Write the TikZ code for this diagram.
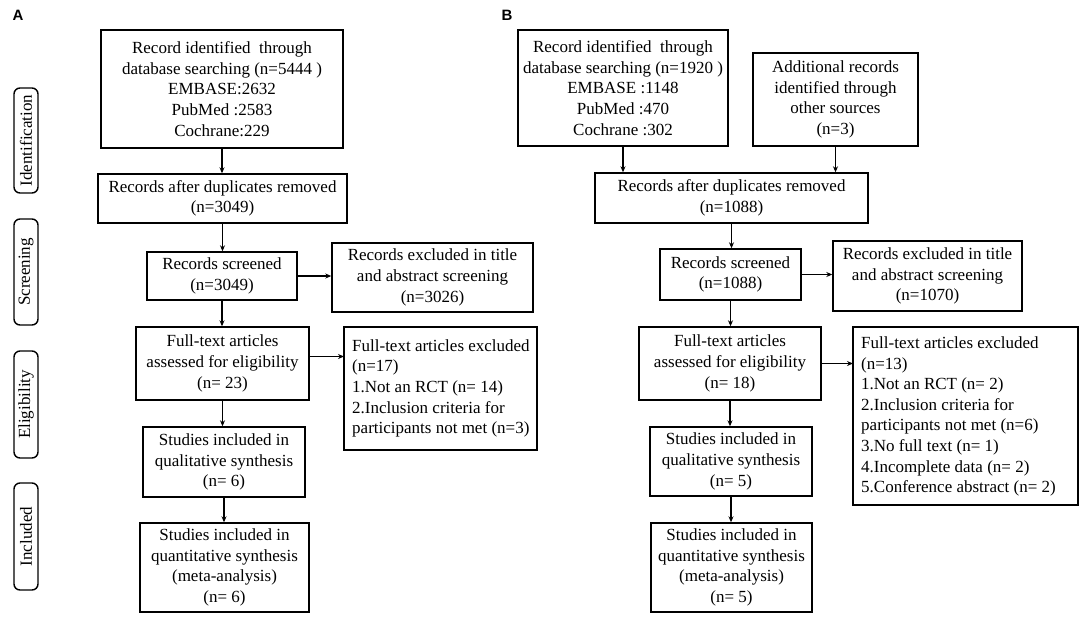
\documentclass[tikz,border=0pt]{standalone}
\usepackage{fontspec}
\setmainfont{Liberation Serif}
\newfontfamily\labfont{Liberation Sans}
\usetikzlibrary{arrows.meta,calc}
\tikzset{
  box/.style={draw, line width=1.4pt, inner sep=0pt, align=center,
    font=\fontsize{17}{20.6}\selectfont},
  lbox/.style={draw, line width=1.4pt, inner sep=0pt, outer sep=0pt},
  ltext/.style={anchor=west, align=left, inner sep=0pt, font=\fontsize{17}{20.6}\selectfont},
  side/.style={draw, line width=1.4pt, rounded corners=6pt, inner sep=0pt,
    rotate=90, minimum height=24pt, font=\fontsize{17}{20.6}\selectfont},
  arr/.style={line width=1.3pt, -{Stealth[length=6pt,width=5pt]}},
  panel/.style={font=\labfont\bfseries\fontsize{15}{15}\selectfont, inner sep=0pt}
}
\newcommand\bx[6]{%
  \node[box, minimum width={(#4-#2)*1pt}, minimum height={(#5-#3)*1pt}]
    (#1) at ({(#2+#4)/2},{(#3+#5)/2}) {#6};}
\begin{document}
\begin{tikzpicture}[x=1pt,y=-1pt]
\useasboundingbox (0,0) rectangle (1084,619);
\fill[white] (0,0) rectangle (1084,619);
% panel labels
\node[panel] (LA) at (18,15) {A};
\node[panel] (LB) at (507,15) {B};
% side labels
\node[side, minimum width=105pt] (S1) at (26,140.5) {Identification};
\node[side, minimum width=106pt] (S2) at (26,272) {Screening};
\node[side, minimum width=107pt] (S3) at (26,404.5) {Eligibility};
\node[side, minimum width=107pt] (S4) at (26,536.5) {Included};
% panel A
\bx{A1}{101}{30}{343}{148}{Record identified~ through\\database searching (n=5444 )\\EMBASE:2632\\PubMed :2583\\Cochrane:229}
\bx{A2}{98}{174}{347}{223}{Records after duplicates removed\\(n=3049)}
\bx{A3}{147}{252}{297}{300}{Records screened\\(n=3049)}
\bx{A3r}{332}{243}{533}{312}{Records excluded in title\\and abstract screening\\(n=3026)}
\bx{A4}{136}{327}{309}{400}{Full-text articles\\assessed for eligibility\\(n= 23)}
\node[lbox, minimum width=193pt, minimum height=123pt, anchor=north west] (A4r) at (344,327) {};
\node[ltext] (A4rt) at (352,388.5) {Full-text articles excluded\\(n=17)\\1.Not an RCT (n= 14)\\2.Inclusion criteria for\\participants not met (n=3)};
\bx{A6}{143}{427}{305}{497}{Studies included in\\qualitative synthesis\\(n= 6)}
\bx{A7}{140}{523}{309}{612}{Studies included in\\quantitative synthesis\\(meta-analysis)\\(n= 6)}
\draw[arr] (A1.south) -- (A1.south |- A2.north);
\draw[arr] (A2.south) -- (A2.south |- A3.north);
\draw[arr] (A3.south) -- (A3.south |- A4.north);
\draw[arr] (A4.south) -- (A4.south |- A6.north);
\draw[arr] (A6.south) -- (A6.south |- A7.north);
\draw[arr] (A3.east) -- (A3.east -| A3r.west);
\draw[arr] ([yshift=7pt]A4.east) -- ([yshift=7pt]A4.east -| A4r.west);
% panel B
\bx{B1}{518}{30}{728}{146}{Record identified~ through\\database searching (n=1920 )\\EMBASE :1148\\PubMed :470\\Cochrane :302}
\bx{B1b}{753}{53}{918}{146}{Additional records\\identified through\\other sources\\(n=3)}
\bx{B2}{595}{173}{868}{223}{Records after duplicates removed\\(n=1088)}
\bx{B3}{660}{249}{801}{300}{Records screened\\(n=1088)}
\bx{B3r}{833}{241}{1022}{311}{Records excluded in title\\and abstract screening\\(n=1070)}
\bx{B4}{639}{327}{821}{400}{Full-text articles\\assessed for eligibility\\(n= 18)}
\node[lbox, minimum width=225pt, minimum height=178pt, anchor=north west] (B4r) at (853,327) {};
\node[ltext] (B4rt) at (861,416.5) {Full-text articles excluded\\(n=13)\\1.Not an RCT (n= 2)\\2.Inclusion criteria for\\participants not met (n=6)\\3.No full text (n= 1)\\4.Incomplete data (n= 2)\\5.Conference abstract (n= 2)};
\bx{B5}{650}{427}{812}{496}{Studies included in\\qualitative synthesis\\(n= 5)}
\bx{B6}{651}{523}{812}{612}{Studies included in\\quantitative synthesis\\(meta-analysis)\\(n= 5)}
\draw[arr] (B1.south) -- (B1.south |- B2.north);
\draw[arr] (B1b.south) -- (B1b.south |- B2.north);
\draw[arr] (B2.south) -- (B2.south |- B3.north);
\draw[arr] (B3.south) -- (B3.south |- B4.north);
\draw[arr] (B4.south) -- (B4.south |- B5.north);
\draw[arr] (B5.south) -- (B5.south |- B6.north);
\draw[arr] (B3.east) -- (B3.east -| B3r.west);
\draw[arr] (B4.east) -- (B4.east -| B4r.west);
\end{tikzpicture}
\end{document}
